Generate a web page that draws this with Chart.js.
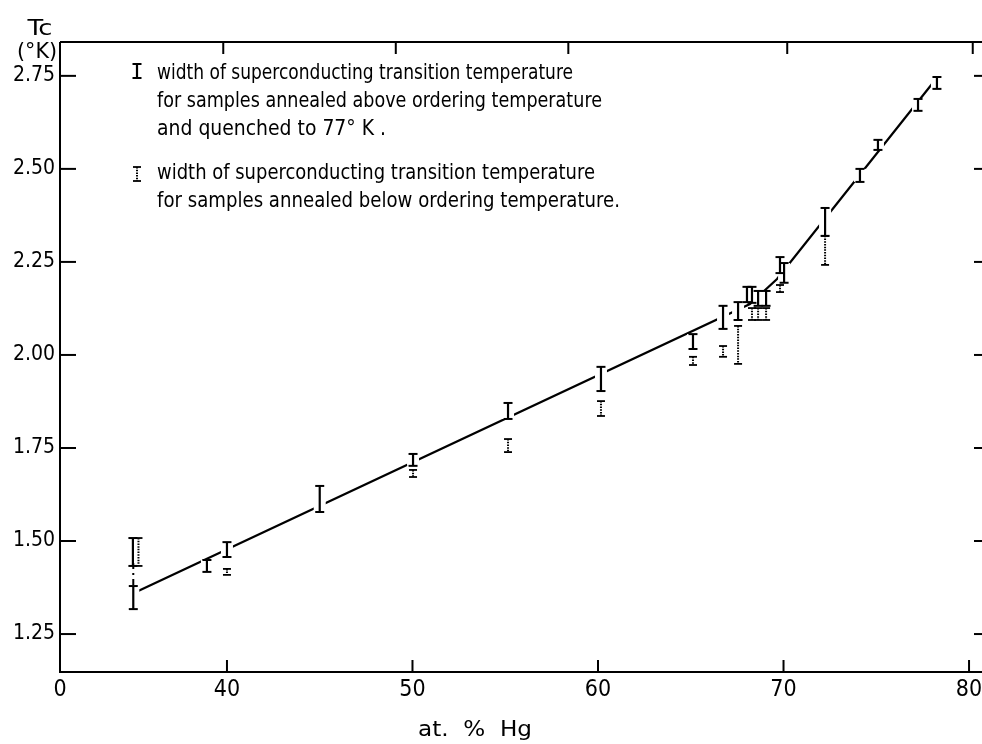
<!DOCTYPE html>
<html>
<head>
<meta charset="utf-8">
<script src="https://cdn.jsdelivr.net/npm/chart.js@4/dist/chart.umd.min.js"></script>
<style>
html,body{margin:0;padding:0;background:#fff;overflow:hidden;width:982px;height:744px;}
#wrap{position:absolute;left:0;top:0;width:990px;height:744px;}
canvas{display:block;}
</style>
</head>
<body>
<div id="wrap"><canvas id="c" width="990" height="744"></canvas></div>
<script>
// ---------- data ----------
const xTickValues = [31, 40, 50, 60, 70, 80];
const xTickLabels = ["0", "40", "50", "60", "70", "80"];
const yTickValues = [1.25, 1.50, 1.75, 2.00, 2.25, 2.50, 2.75];
const yTickLabels = ["1.25", "1.50", "1.75", "2.00", "2.25", "2.50", "2.75"];
const bottomTickValues = [40, 50, 60, 70, 80];
const topTickValues = [39.8, 49.1, 58.4, 70.2, 80.2];

// fitted curve of Tc vs at.% Hg
const lineX = [35.1, 68.19, 69.65, 78.27];
const lineY = [1.363, 2.137, 2.204, 2.745];

// solid bars: samples annealed above ordering temperature, quenched to 77 K
const solidX  = [34.95, 34.93, 38.92, 40.0, 45.0, 50.03, 55.15, 60.16, 65.12, 66.74, 67.55, 68.03, 68.3, 68.63, 69.06, 69.81, 70.03, 72.24, 74.12, 75.09, 77.25, 78.27];
const solidLo = [1.317, 1.433, 1.417, 1.457, 1.578, 1.702, 1.828, 1.903, 2.016, 2.070, 2.094, 2.142, 2.140, 2.132, 2.132, 2.220, 2.194, 2.320, 2.465, 2.551, 2.656, 2.715];
const solidHi = [1.379, 1.508, 1.449, 1.497, 1.648, 1.734, 1.871, 1.968, 2.056, 2.132, 2.142, 2.183, 2.183, 2.172, 2.172, 2.263, 2.247, 2.395, 2.500, 2.578, 2.688, 2.747];

// dotted bars: samples annealed below ordering temperature
const dottedX  = [35.23, 40.0, 50.03, 55.15, 60.16, 65.12, 66.74, 67.55, 68.3, 68.63, 69.06, 69.81, 72.24];
const dottedLo = [1.433, 1.409, 1.672, 1.739, 1.836, 1.973, 1.995, 1.976, 2.094, 2.094, 2.094, 2.169, 2.242];
const dottedHi = [1.508, 1.425, 1.691, 1.774, 1.876, 1.995, 2.024, 2.078, 2.126, 2.126, 2.126, 2.188, 2.320];

// dash-dot continuation of the 35 % bar
const dashX  = [34.95];
const dashLo = [1.379];
const dashHi = [1.441];

const legendLines = [
  "width of superconducting transition temperature",
  "for samples annealed above ordering temperature",
  "and quenched to 77° K .",
  "width of superconducting transition temperature",
  "for samples annealed below ordering temperature."
];
const yTitleLines = ["Tc", "(°K)"];
const xTitle = "at.  %  Hg";

// ---------- drawing ----------
const FONT = "'DejaVu Sans Condensed','DejaVu Sans',sans-serif";

function seg(ctx, x1, y1, x2, y2) {
  ctx.beginPath(); ctx.moveTo(x1, y1); ctx.lineTo(x2, y2); ctx.stroke();
}
function solidBar(ctx, px, top, bot) {
  ctx.setLineDash([]);
  ctx.lineWidth = 2.2;
  seg(ctx, px, top, px, bot);
  ctx.lineWidth = 2;
  seg(ctx, px - 4.5, top, px + 4.5, top);
  seg(ctx, px - 4.5, bot, px + 4.5, bot);
}
function dottedBar(ctx, px, top, bot) {
  ctx.lineWidth = 2;
  ctx.setLineDash([1.5, 1.2]);
  seg(ctx, px, top, px, bot);
  ctx.setLineDash([]);
  ctx.lineWidth = 1.8;
  seg(ctx, px - 4, top, px + 4, top);
  seg(ctx, px - 4, bot, px + 4, bot);
}
function fitText(ctx, text, x, baseline, size, width, align) {
  ctx.font = size + "px " + FONT;
  const w = ctx.measureText(text).width;
  const sx = width / w;
  ctx.save();
  ctx.translate(align === "center" ? x - width / 2 : x, baseline);
  ctx.scale(sx, 1);
  ctx.textAlign = "left";
  ctx.textBaseline = "alphabetic";
  ctx.fillText(text, 0, 0);
  ctx.restore();
}

const overlay = {
  id: "overlay",
  afterDatasetsDraw(chart) {
    const ctx = chart.ctx, a = chart.chartArea, xs = chart.scales.x, ys = chart.scales.y;
    ctx.save();
    ctx.strokeStyle = "#000";
    ctx.fillStyle = "#000";
    ctx.lineCap = "butt";

    // frame (left, bottom, top)
    ctx.lineWidth = 2;
    ctx.beginPath();
    ctx.moveTo(a.left, a.top); ctx.lineTo(a.left, a.bottom); ctx.lineTo(a.right, a.bottom);
    ctx.moveTo(a.left, a.top); ctx.lineTo(a.right, a.top);
    ctx.stroke();

    // inward tick marks
    yTickValues.forEach(v => {
      const py = ys.getPixelForValue(v);
      seg(ctx, a.left, py, a.left + 16, py);
      seg(ctx, a.right - 16, py, a.right, py);
    });
    bottomTickValues.forEach(v => {
      const px = xs.getPixelForValue(v);
      seg(ctx, px, a.bottom, px, a.bottom - 12);
    });
    topTickValues.forEach(v => {
      const px = xs.getPixelForValue(v);
      seg(ctx, px, a.top, px, a.top + 12);
    });

    // gaps in the curve where it meets the solid bars
    ctx.fillStyle = "#fff";
    solidX.forEach((v, i) => {
      const px = xs.getPixelForValue(v);
      const t = ys.getPixelForValue(solidHi[i]), b = ys.getPixelForValue(solidLo[i]);
      ctx.fillRect(px - 6, t, 12, b - t);
    });
    ctx.fillStyle = "#000";

    // bars
    solidX.forEach((v, i) => {
      solidBar(ctx, xs.getPixelForValue(v), ys.getPixelForValue(solidHi[i]), ys.getPixelForValue(solidLo[i]));
    });
    dottedX.forEach((v, i) => {
      dottedBar(ctx, xs.getPixelForValue(v), ys.getPixelForValue(dottedHi[i]), ys.getPixelForValue(dottedLo[i]));
    });
    dashX.forEach((v, i) => {
      ctx.lineWidth = 2;
      ctx.setLineDash([6, 4, 2, 4]);
      seg(ctx, xs.getPixelForValue(v), ys.getPixelForValue(dashHi[i]), xs.getPixelForValue(v), ys.getPixelForValue(dashLo[i]));
      ctx.setLineDash([]);
    });

    // legend
    solidBar(ctx, 137, 64, 78);
    dottedBar(ctx, 137, 167, 181);
    fitText(ctx, legendLines[0], 157, 79, 22, 416);
    fitText(ctx, legendLines[1], 157, 107, 22, 445);
    fitText(ctx, legendLines[2], 157, 135, 22, 229);
    fitText(ctx, legendLines[3], 157, 179, 22, 438);
    fitText(ctx, legendLines[4], 157, 207, 22, 463);

    // axis titles
    fitText(ctx, yTitleLines[0], 40, 35, 22, 25, "center");
    fitText(ctx, yTitleLines[1], 37, 58, 22, 40, "center");
    fitText(ctx, xTitle, 475, 736, 21, 114, "center");
    ctx.restore();
  }
};

new Chart(document.getElementById("c"), {
  type: "scatter",
  data: {
    datasets: [{
      data: lineX.map((v, i) => ({ x: v, y: lineY[i] })),
      showLine: true,
      borderColor: "#000",
      borderWidth: 2.2,
      pointRadius: 0,
      tension: 0
    }]
  },
  options: {
    responsive: false,
    animation: false,
    devicePixelRatio: 1,
    layout: { padding: { top: 42, left: 0, right: 0, bottom: 0 } },
    plugins: { legend: { display: false }, tooltip: { enabled: false } },
    scales: {
      x: {
        type: "linear", min: 31, max: 81.13,
        afterBuildTicks: s => { s.ticks = xTickValues.map(v => ({ value: v })); },
        afterFit: s => { s.height = 72; },
        ticks: {
          autoSkip: false, maxRotation: 0, padding: 4,
          color: "#000",
          font: { family: FONT, size: 23 },
          callback: (v, i) => xTickLabels[i]
        },
        grid: { display: false, drawTicks: false },
        border: { display: false }
      },
      y: {
        type: "linear", min: 1.148, max: 2.841,
        afterBuildTicks: s => { s.ticks = yTickValues.map(v => ({ value: v })); },
        afterFit: s => { s.width = 60; },
        ticks: {
          autoSkip: false, padding: 5,
          color: "#000",
          font: { family: FONT, size: 21 },
          callback: (v, i) => yTickLabels[i]
        },
        grid: { display: false, drawTicks: false },
        border: { display: false }
      }
    }
  },
  plugins: [overlay]
});
</script>
</body>
</html>
